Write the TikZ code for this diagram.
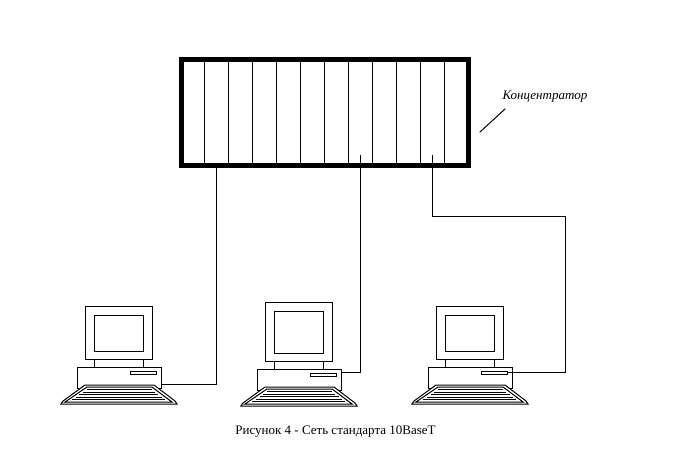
\documentclass[tikz,border=0pt]{standalone}
\usepackage{fontspec}
\setmainfont{Liberation Serif}
\usetikzlibrary{calc}
\tikzset{
  pcmon/.store in=\pcmon, pcmon=-61,
  thin line/.style={line width=1pt, line cap=rect},
  hubbox/.style={draw, line width=5pt, minimum width=287pt, minimum height=106pt, inner sep=0pt, outer sep=0pt, anchor=north west},
  computer/.pic={
    % monitor
    \draw[thin line] (8,\pcmon) rectangle (75,-8);
    \draw[thin line] (17,\pcmon+9) rectangle (66,-16);
    \draw[thin line] (17,-8) -- (17,0) (66,-8) -- (66,0);
    % system unit
    \draw[thin line] (0,0) rectangle (84,21);
    \draw[thin line] (53,4) rectangle (79,7);
    % keyboard
    \filldraw[thin line, fill=white] (8,18) -- (77,18) -- (98,34) -- (100,37) -- (-16,37) -- (-14,34) -- cycle;
    \draw[thin line] (10,20) -- (75,20) -- (95,35) -- (-12,35) -- cycle;
    \foreach \yy in {22.5,25,27.5,30,32.5}{
      \draw[thin line] ({10-1.467*(\yy-20)+4},\yy) -- ({75+1.333*(\yy-20)-4},\yy);
    }
  },
  caption/.style={font=\fontsize{13}{15}\selectfont, inner sep=0pt},
  hublabel/.style={font=\itshape\fontsize{13}{15}\selectfont, inner sep=0pt, anchor=west}
}
\begin{document}
\begin{tikzpicture}[x=1pt, y=-1pt, line width=1pt]
\useasboundingbox (0,0) rectangle (685,457);

% hub
\node[hubbox] (hub) at (181,60) {};
\foreach \i in {1,...,11}{
  \draw[thin line] ({181+23.917*\i},60) -- ({181+23.917*\i},166);
}
\coordinate (p1) at (216,166);
\coordinate (p2) at (360.5,156);
\coordinate (p3) at (432.5,156);

% label
\node[hublabel] (lbl) at (502,97) {Концентратор};
\coordinate (leadA) at (480,132);
\coordinate (leadB) at (505,109);
\draw[thin line] (leadA) -- (leadB);

% computers
\pic (pc1) at (77,367) {computer};
\pic[pcmon=-67] (pc2) at (257,369) {computer};
\pic (pc3) at (428,367) {computer};

\coordinate (c1) at (161,384);
\coordinate (c2) at (342,372);
\coordinate (c3) at (507,372);
\coordinate (bend) at (565,216.5);

% cables
\draw[thin line] (p1) |- (c1);
\draw[thin line] (p2) |- (c2);
\draw[thin line] (p3) |- (bend) |- (c3);

% caption
\node[caption] (cap) at (335.5,432) {Рисунок 4 - Сеть стандарта 10BaseT};
\end{tikzpicture}
\end{document}
